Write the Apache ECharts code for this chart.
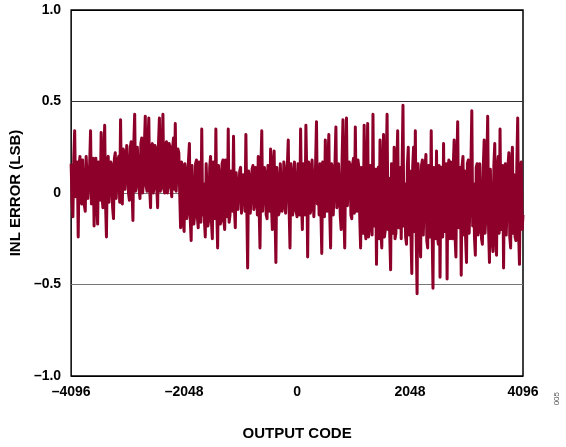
<!DOCTYPE html>
<html>
<head>
<meta charset="utf-8">
<script src="https://cdn.jsdelivr.net/npm/echarts@6/dist/echarts.min.js"></script>
<style>
  html, body { margin: 0; padding: 0; background: #fff; }
  #chart { width: 566px; height: 447px; }
</style>
</head>
<body>
<div id="chart"></div>
<script>
// INL error vs output code.
// evenCodes: codes -4096, -4064, ... 4096 ; oddCodes: the codes 16 above each of them
const codeStart = -4096;
const codeStep = 16;
const inlEven = [
  // -4096 .. -3200
  0.16, -0.13, 0.34, 0.05, -0.24, 0.20, -0.06, 0.18, -0.10, 0.21,
  -0.04, 0.34, 0.02, -0.18, 0.19, -0.17, 0.12, 0.33, -0.08, 0.37,
  -0.24, 0.20, -0.06, 0.15, -0.14, 0.22, -0.02, 0.20, 0.40,
  // -3168 .. -2112
  -0.06, 0.22, 0.02, 0.25, -0.04, 0.28, -0.15, 0.43, 0.05, 0.26,
  -0.03, 0.30, 0.06, 0.42, 0.01, 0.41, -0.08, 0.27, 0.03, 0.24,
  -0.08, 0.41, 0.04, 0.43, 0.00, 0.28, 0.05, 0.25, -0.02, 0.30,
  0.38, 0.02, 0.22, -0.19,
  // -2080 .. -1216
  0.15, -0.21, 0.12, -0.10, 0.27, -0.26, 0.14, -0.12, 0.18, -0.19,
  0.10, 0.35, 0.05, -0.24, 0.17, -0.14, 0.20, -0.25, 0.12, 0.35,
  -0.30, 0.10, -0.15, 0.18, -0.20, 0.15, 0.35, -0.12,
  // -1184 .. 64
  0.08, 0.31, -0.19, 0.10, -0.08, 0.14, -0.12, 0.06, 0.32, -0.41,
  0.08, -0.10, 0.15, -0.06, 0.12, 0.20, -0.30, 0.34, -0.09, 0.10,
  -0.14, 0.08, 0.24, -0.20, 0.23, -0.38, 0.06, -0.10, 0.16, -0.07,
  0.12, -0.12, 0.29, -0.30, 0.10, -0.08, 0.18, -0.13, 0.05, 0.35,
  // 96 .. 1152
  -0.20, 0.12, 0.37, -0.35, 0.15, -0.08, 0.18, -0.12, 0.39, 0.05,
  0.16, -0.33, 0.12, 0.29, -0.10, 0.32, -0.30, 0.14, -0.12, 0.36,
  -0.05, 0.17, -0.20, 0.40, -0.30, 0.41, -0.08, 0.15, -0.14, 0.19,
  0.36, -0.10, 0.14, -0.30,
  // 1184 .. 4096
  0.12, 0.37, -0.25, 0.38, -0.18, 0.10, 0.43, -0.12, -0.39, 0.14,
  0.29, -0.30, 0.32, -0.20, 0.43, 0.08, -0.42, 0.16, 0.25, -0.22,
  0.34, -0.15, -0.25, 0.48, 0.05, -0.28, 0.25, 0.12, -0.44, 0.25,
  0.34, -0.55, 0.08, -0.35, 0.18, -0.24, 0.21, -0.30, 0.15, 0.34,
  -0.52, 0.10, 0.23, -0.28, -0.46, 0.14, 0.27, -0.20, -0.47, 0.18,
  0.17, -0.25, 0.29, -0.35, 0.39, -0.15, -0.45, 0.20, 0.12, -0.38,
  0.18, -0.22, 0.45, 0.05, -0.34, 0.16, -0.20, 0.15, -0.28, 0.29,
  -0.12, 0.42, -0.38, 0.12, -0.32, 0.27, -0.34, 0.20, 0.35, -0.18,
  -0.41, 0.16, -0.22, 0.22, -0.30, 0.25, 0.10, -0.26, 0.41, -0.39,
  0.17, -0.12
];
const inlOdd = [
  // -4080 .. -3216
  -0.05, 0.19, -0.02, 0.17, 0.15, -0.04, 0.18, -0.07, 0.20, -0.03,
  0.16, -0.06, 0.19, 0.14, -0.05, 0.17, -0.04, -0.02, 0.20, -0.06,
  0.18, -0.05, 0.17, -0.08, 0.19, -0.03, 0.18, -0.05, -0.01,
  // -3152 .. -2128
  0.24, 0.02, 0.26, 0.00, 0.25, 0.03, 0.27, 0.01, 0.25, 0.02,
  0.27, 0.00, 0.26, 0.04, 0.27, 0.02, 0.25, 0.00, 0.26, 0.03,
  0.27, 0.01, 0.24, 0.02, 0.26, 0.00, 0.27, 0.03, 0.25, 0.02,
  0.01, 0.24, 0.00, 0.17,
  // -2064 .. -1200
  -0.16, 0.16, -0.14, 0.18, -0.15, 0.15, -0.17, 0.16, -0.13, 0.17,
  -0.16, -0.12, -0.15, 0.16, -0.18, 0.14, -0.16, 0.17, -0.14, -0.10,
  0.15, -0.17, 0.16, -0.15, 0.18, -0.13, -0.16, 0.12,
  // -1168 .. 80
  -0.10, -0.08, 0.11, -0.09, 0.12, -0.11, 0.10, -0.10, -0.06, 0.12,
  -0.11, 0.13, -0.09, 0.14, -0.12, -0.08, 0.13, -0.10, 0.14, -0.12,
  0.15, -0.10, -0.07, 0.16, -0.11, 0.14, -0.12, 0.16, -0.10, 0.17,
  -0.11, 0.15, -0.09, 0.16, -0.12, 0.17, -0.10, 0.16, -0.12, -0.05,
  // 112 .. 1168
  0.16, -0.12, 0.10, 0.17, -0.11, 0.18, -0.13, 0.16, -0.06, -0.12,
  -0.10, 0.17, -0.13, -0.04, 0.18, -0.11, 0.16, -0.12, 0.17, -0.08,
  0.16, -0.13, 0.18, -0.10, 0.15, -0.07, 0.17, -0.12, 0.16, -0.11,
  -0.05, 0.18, -0.13, 0.14,
  // 1200 .. 4080
  -0.22, -0.20, 0.14, -0.24, 0.15, -0.23, -0.18, 0.13, 0.12, -0.25,
  -0.21, 0.15, -0.24, 0.14, -0.20, -0.23, 0.16, -0.22, -0.25, 0.15,
  -0.19, 0.14, 0.13, -0.18, -0.24, 0.15, -0.23, -0.22, 0.14, -0.21,
  -0.24, 0.16, -0.25, 0.15, -0.23, 0.14, -0.26, 0.15, -0.24, -0.20,
  0.14, -0.25, -0.22, 0.15, 0.12, -0.24, -0.21, 0.16, 0.13, -0.25,
  -0.23, 0.15, -0.24, 0.16, -0.19, 0.14, 0.15, -0.23, -0.25, 0.16,
  -0.22, 0.15, -0.18, -0.24, 0.14, -0.23, 0.16, -0.25, 0.14, -0.22,
  0.15, -0.20, 0.13, -0.25, 0.15, -0.24, 0.14, -0.22, -0.20, 0.15,
  0.13, -0.23, 0.15, -0.24, 0.16, -0.22, -0.24, 0.15, -0.21, 0.14,
  -0.20
];
const xTicks = [-4096, -2048, 0, 2048, 4096];
const yTicks = [-1.0, -0.5, 0, 0.5, 1.0];

const lineColor = '#8c0029';
const font = "'Liberation Sans', Arial, sans-serif";
const dash = s => String(s).replace('-', '\u2013');

// interleave the two sample sets in code order
const seriesData = [];
inlEven.forEach((v, i) => {
  seriesData.push([codeStart + 2 * i * codeStep, v]);
  if (i < inlOdd.length) seriesData.push([codeStart + (2 * i + 1) * codeStep, inlOdd[i]]);
});

const chart = echarts.init(document.getElementById('chart'));
chart.setOption({
  animation: false,
  grid: {
    left: 69, right: 43, top: 10, bottom: 71,
    show: true, borderColor: '#000', borderWidth: 1.5
  },
  xAxis: {
    type: 'value',
    min: xTicks[0], max: xTicks[xTicks.length - 1], interval: 2048,
    axisLine: { show: false },
    axisTick: { show: false },
    splitLine: { show: false },
    axisLabel: {
      margin: 9, color: '#000', fontFamily: font, fontWeight: 'bold', fontSize: 14,
      formatter: v => dash(v)
    },
    name: 'OUTPUT CODE',
    nameLocation: 'middle', nameGap: 50,
    nameTextStyle: { color: '#000', fontFamily: font, fontWeight: 'bold', fontSize: 15 }
  },
  yAxis: {
    type: 'value',
    min: yTicks[0], max: yTicks[yTicks.length - 1], interval: 0.5,
    axisLine: { show: false },
    axisTick: { show: false },
    splitLine: {
      show: true,
      lineStyle: { color: ['#000', '#777', '#777', '#333', '#000'], width: 1 }
    },
    axisLabel: {
      margin: 10, color: '#000', fontFamily: font, fontWeight: 'bold', fontSize: 14,
      formatter: v => dash(v === 0 ? '0' : v.toFixed(1))
    },
    name: 'INL ERROR (LSB)',
    nameLocation: 'middle', nameGap: 43,
    nameTextStyle: { color: '#000', fontFamily: font, fontWeight: 'bold', fontSize: 15 }
  },
  graphic: [{
    type: 'text', left: 553, top: 392, rotation: Math.PI / 2,
    style: { text: '005', fill: '#555', font: "8px " + font }
  }],
  series: [{
    type: 'line',
    data: seriesData,
    showSymbol: false,
    sampling: null,
    lineStyle: { color: lineColor, width: 3, join: 'round' }
  }]
});
</script>
</body>
</html>
